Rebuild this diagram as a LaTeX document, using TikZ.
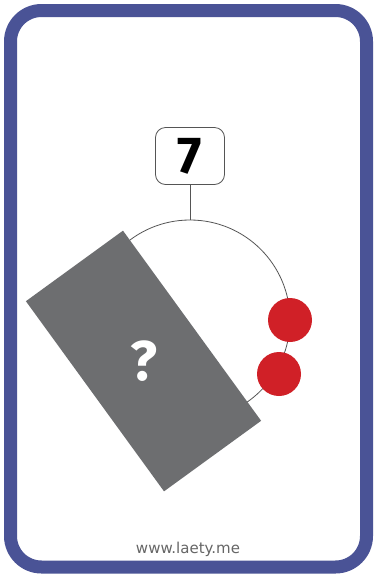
\documentclass[tikz,border=0pt]{standalone}
\usepackage{fontspec}
\setmainfont{Fira Sans}
\newfontfamily\urlfont{DejaVu Sans}
\definecolor{cardblue}{HTML}{4A5396}
\definecolor{cardgray}{HTML}{6D6E70}
\definecolor{dotred}{HTML}{D02027}
\definecolor{linegray}{HTML}{555555}
\definecolor{urlgray}{HTML}{666666}
\tikzset{
  thinline/.style={draw=linegray, line width=0.8pt},
  reddot/.style={circle, fill=dotred, minimum size=44pt, inner sep=0pt},
}
\begin{document}
\begin{tikzpicture}[x=1pt,y=-1pt]
\useasboundingbox (0,0) rectangle (374,574);
\fill[white] (0,0) rectangle (374,574);
% card border
\draw[cardblue, line width=13pt, rounded corners=31pt] (10.5,10.5) rectangle (366.5,567);
% number box
\node[thinline, rounded corners=10pt, minimum width=69pt, minimum height=57pt, inner sep=0pt,
      font=\fontsize{52}{52}\selectfont\bfseries] (num) at (190,156) {7};
% ring
\node[thinline, circle, minimum size=200pt, inner sep=0pt] (ring) at (190,320) {};
\draw[thinline] (num.south) -- (ring.north);
% red dots
\node[reddot] (d1) at (290,320) {};
\node[reddot] (d2) at (279,374) {};
% gray card
\node[fill=cardgray, minimum width=235pt, minimum height=120pt, inner sep=0pt, rotate=-54] (hidden) at (143.5,361) {};
\node[text=white, font=\fontsize{56}{56}\selectfont\bfseries] (q) at (hidden.center) {?};
% url
\node[text=urlgray, font=\urlfont\fontsize{15}{15}\selectfont] (url) at (188,549) {www.laety.me};
\end{tikzpicture}
\end{document}
